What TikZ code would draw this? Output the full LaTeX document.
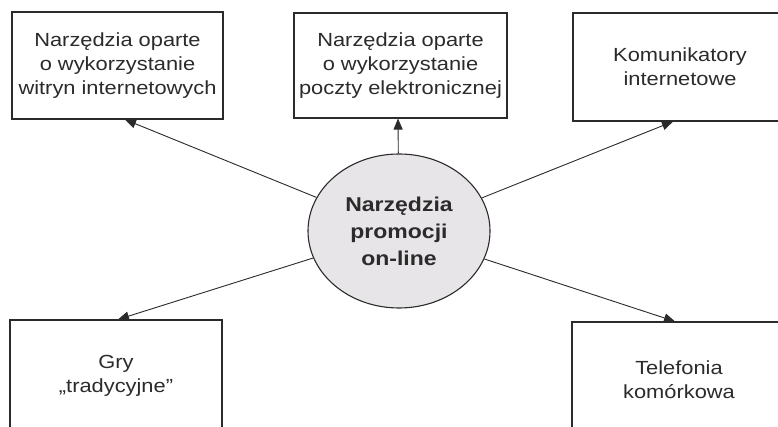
\documentclass[tikz,border=0pt]{standalone}
\usepackage{fontspec}
\setmainfont{Liberation Sans}[FakeStretch=1.15]
\usetikzlibrary{shapes.geometric,arrows.meta}
\definecolor{ink}{HTML}{2B2B2B}
\definecolor{ellfill}{HTML}{E8E5E8}
\tikzset{
  box/.style={draw=ink, line width=1.1pt, rectangle, align=center, text=ink,
    font=\fontsize{19}{24}\selectfont, inner sep=0pt},
  hub/.style={draw=ink, line width=1.1pt, ellipse, fill=ellfill, align=center, text=ink,
    font=\fontsize{20}{27}\selectfont\bfseries, inner sep=0pt},
  link/.style={draw=ink, line width=0.9pt, -{Triangle[length=11pt,width=9pt]}}
}
\begin{document}
\begin{tikzpicture}[x=1pt,y=1pt]
\useasboundingbox (0,0) rectangle (778,427);
\clip (0,0) rectangle (778,427);
\fill[white] (0,0) rectangle (778,427);
\node[box, minimum width=211pt, minimum height=107pt] (A) at (117.5,361.5)
  {Narzędzia oparte\\o wykorzystanie\\witryn internetowych};
\node[box, minimum width=213pt, minimum height=105pt] (B) at (400.5,361.5)
  {Narzędzia oparte\\o wykorzystanie\\poczty elektronicznej};
\node[box, minimum width=214pt, minimum height=108pt] (C) at (680,360)
  {Komunikatory\\internetowe};
\node[box, minimum width=212pt, minimum height=112pt] (D) at (116,51)
  {Gry\\„tradycyjne”};
\node[box, minimum width=214pt, minimum height=116pt] (E) at (679,47)
  {Telefonia\\komórkowa};
\node[hub, minimum width=182pt, minimum height=154pt] (H) at (399,196)
  {Narzędzia\\promocji\\on-line};
\coordinate (tA) at ([xshift=7.5pt]A.south);
\coordinate (tB) at ([xshift=-2.5pt]B.south);
\coordinate (tC) at ([xshift=-7pt]C.south);
\coordinate (tD) at ([xshift=2pt]D.north);
\coordinate (tE) at ([xshift=-4pt]E.north);
\draw[link] (H) -- (tA);
\draw[link] (H) -- (tB);
\draw[link] (H) -- (tC);
\draw[link] (H) -- (tD);
\draw[link] (H) -- (tE);
\end{tikzpicture}
\end{document}
